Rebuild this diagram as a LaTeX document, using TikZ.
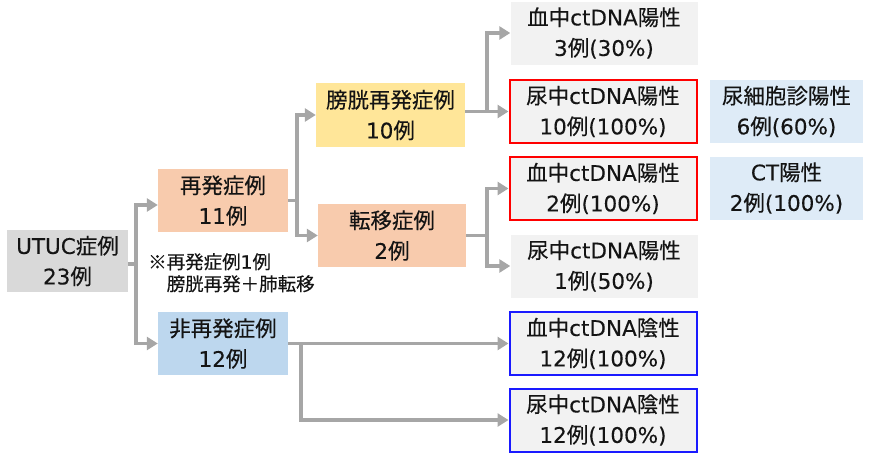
\documentclass[tikz,border=0pt]{standalone}
\usepackage{fontspec}
\setmainfont{Noto Sans CJK JP}[FakeBold=0.3]
\newfontfamily\latfont{DejaVu Sans}[FakeBold=0.2]
\newcommand\lx[1]{{\latfont #1}}
\usetikzlibrary{arrows.meta,calc}
\definecolor{txt}{HTML}{141414}
\definecolor{graybox}{HTML}{D9D9D9}
\definecolor{lightbox}{HTML}{F2F2F2}
\definecolor{orangebox}{HTML}{F8CBAD}
\definecolor{yellowbox}{HTML}{FFE699}
\definecolor{bluebox}{HTML}{BDD7EE}
\definecolor{paleblue}{HTML}{DEEBF7}
\definecolor{conn}{HTML}{A6A6A6}
\definecolor{redline}{HTML}{FF0000}
\definecolor{blueline}{HTML}{1A1AFF}
\begin{document}
\begin{tikzpicture}[x=1pt,y=-1pt,
  box/.style={inner sep=0pt,align=center,text=txt,font=\fontsize{21.5}{30.5}\selectfont},
  leftbox/.style={box,minimum width=121pt,minimum height=62pt},
  midbox/.style={box,minimum width=130pt,minimum height=63pt},
  thirdbox/.style={box,minimum width=149pt,minimum height=64pt},
  resbox/.style={box,fill=lightbox,minimum width=187pt,minimum height=63pt},
  redbox/.style={resbox,draw=redline,line width=2pt},
  bluebox2/.style={resbox,draw=blueline,line width=2pt},
  extrabox/.style={box,fill=paleblue,minimum width=153pt,minimum height=63pt},
  line/.style={draw=conn,line width=3.6pt},
  arrow/.style={line,-{Triangle[length=11pt,width=13pt]}}
]
\useasboundingbox (0,0) rectangle (870,464);

% nodes
\node[leftbox,fill=graybox] (utuc) at (67.5,261) {\lx{UTUC}症例\\\lx{23}例};
\node[midbox,fill=orangebox] (re) at (223,200.5) {再発症例\\\lx{11}例};
\node[midbox,fill=bluebox] (nonre) at (223,343.5) {非再発症例\\\lx{12}例};
\node[thirdbox,fill=yellowbox] (bladder) at (390.5,115) {膀胱再発症例\\\lx{10}例};
\node[thirdbox,fill=orangebox,minimum width=148pt,minimum height=63pt] (meta) at (392,235.5) {転移症例\\\lx{2}例};

\node[resbox] (b3) at (604,33) {血中\lx{ctDNA}陽性\\\lx{3}例\lx{(30\%)}};
\node[redbox] (u10) at (603,111.5) {尿中\lx{ctDNA}陽性\\\lx{10}例\lx{(100\%)}};
\node[redbox] (b2) at (603,188.5) {血中\lx{ctDNA}陽性\\\lx{2}例\lx{(100\%)}};
\node[resbox] (u1) at (604,266) {尿中\lx{ctDNA}陽性\\\lx{1}例\lx{(50\%)}};
\node[bluebox2] (bn) at (603,343.5) {血中\lx{ctDNA}陰性\\\lx{12}例\lx{(100\%)}};
\node[bluebox2] (un) at (603,420) {尿中\lx{ctDNA}陰性\\\lx{12}例\lx{(100\%)}};

\node[extrabox] (cyto) at (786.5,111.5) {尿細胞診陽性\\\lx{6}例\lx{(60\%)}};
\node[extrabox] (ct) at (786.5,188) {\lx{CT}陽性\\\lx{2}例\lx{(100\%)}};

\node[anchor=north west,inner sep=0pt,align=left,text=txt,font=\fontsize{18.5}{22}\selectfont] (note) at (148,253) {※再発症例\lx{1}例\\　膀胱再発＋肺転移};

% connectors
\coordinate (j1) at (136,264);
\draw[line] (utuc.east |- j1) -- (j1);
\draw[arrow] (j1) |- ($(re.west)+(0,4.5)$);
\draw[arrow] (j1) |- (nonre.west);

\coordinate (j2) at (297,200.5);
\draw[line] (re.east) -- (j2);
\draw[arrow] (j2) |- (bladder.west);
\draw[arrow] (j2) |- (meta.west);

\coordinate (j3) at (487,111.5);
\draw[arrow] (bladder.east |- u10.west) -- (u10.west);
\draw[arrow] (j3) |- (b3.west);

\coordinate (j4) at (487,235.5);
\draw[line] (meta.east) -- (j4);
\draw[arrow] (j4) |- (b2.west);
\draw[arrow] (j4) |- (u1.west);

\coordinate (j5) at (301,343.5);
\draw[arrow] (nonre.east) -- (bn.west);
\draw[arrow] (j5) |- (un.west);
\end{tikzpicture}
\end{document}
